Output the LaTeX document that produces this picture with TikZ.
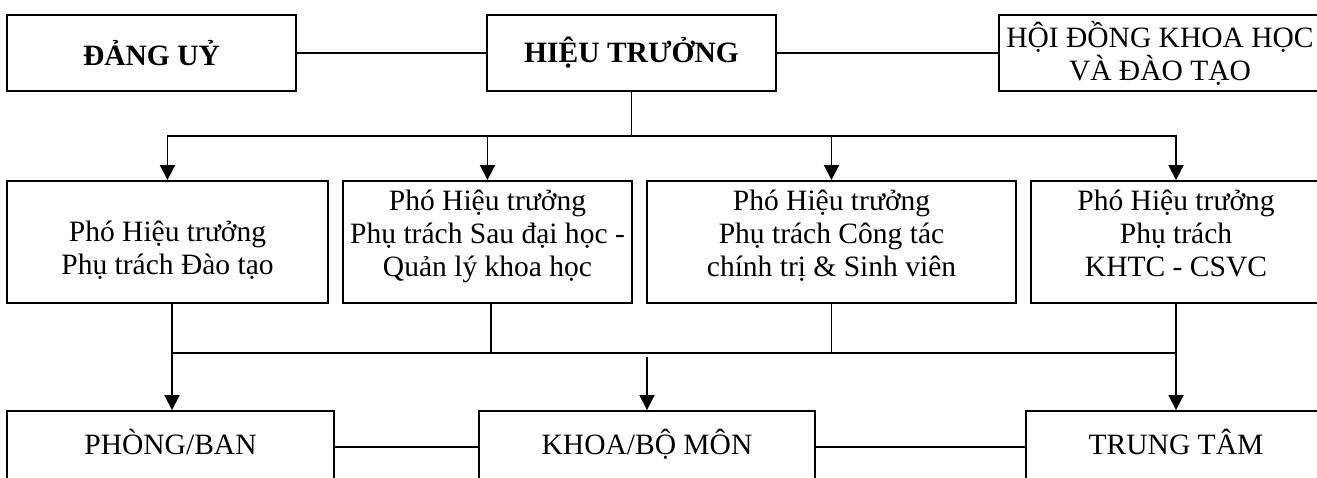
\documentclass[tikz,border=0pt]{standalone}
\usepackage{fontspec}
\setmainfont{Liberation Serif}
\usetikzlibrary{arrows.meta}

\begin{document}
\begin{tikzpicture}[x=0.02cm, y=-0.02cm, font=\fontsize{16.8}{18.8}\selectfont]
\tikzstyle{unit_top}=[rectangle, draw=black, line width=1.1pt, minimum height=1.52cm, align=center, inner sep=0pt];
\tikzstyle{unit_pht}=[rectangle, draw=black, line width=1.1pt, minimum height=2.44cm, align=center, inner sep=0pt];
\tikzstyle{unit_pht3}=[unit_pht, text depth=0.36cm];
\tikzstyle{unit_bottom}=[rectangle, draw=black, line width=1.1pt, minimum height=1.44cm, text height=0.42cm, text depth=0.14cm, inner sep=0pt];
\tikzstyle{line}=[line width=1.1pt];
\tikzstyle{arrow}=[-{Triangle[width=0.3cm, length=0.3cm]}, line width=1.1pt];

\clip (0,0) rectangle (1317,477);

\node [unit_top, minimum width=5.78cm] at (151.5,53) (Dang Uy) {\textbf{ĐẢNG UỶ}};
\node [unit_top, minimum width=5.78cm] at (631.5,53) (Hieu Truong) {\textbf{HIỆU TRƯỞNG}};
\node [unit_top, minimum width=6.46cm] at (1160,53) (Hoi Dong) {HỘI ĐỒNG KHOA HỌC\\VÀ ĐÀO TẠO};

\node [unit_pht, minimum width=6.42cm] at (167.5,242) (PHT Dao Tao) {\rule{0pt}{0.72cm}Phó Hiệu trưởng\\Phụ trách Đào tạo};
\node [unit_pht3, minimum width=5.78cm] at (487.5,242) (PHT Sau Dai Hoc) {Phó Hiệu trưởng\\Phụ trách Sau đại học -\\Quản lý khoa học};
\node [unit_pht3, minimum width=7.38cm] at (831.5,242) (PHT Sinh Vien) {Phó Hiệu trưởng\\Phụ trách Công tác\\chính trị \& Sinh viên};
\node [unit_pht3, minimum width=5.8cm] at (1176,242) (PHT CSVC) {Phó Hiệu trưởng\\Phụ trách\\KHTC - CSVC};

\node [unit_bottom, minimum width=6.54cm] at (170.5,447) (Phong Ban) {PHÒNG/BAN};
\node [unit_bottom, minimum width=6.72cm] at (647,447) (Khoa) {KHOA/BỘ MÔN};
\node [unit_bottom, minimum width=6.0cm] at (1176,447) (Trung Tam) {TRUNG TÂM};

\coordinate (Bus Top) at (631.5,136);
\coordinate (Bus Left) at (172,353);
\coordinate (Bus Right) at (1176,353);

\draw[line] (Dang Uy) -- (Hieu Truong);
\draw[line] (Hieu Truong) -- (Hoi Dong);

\draw[line] (Hieu Truong) -- (Bus Top);
\draw[arrow] (Bus Top) -| (PHT Dao Tao);
\draw[arrow] (Bus Top) -| (PHT Sau Dai Hoc);
\draw[arrow] (Bus Top) -| (PHT Sinh Vien);
\draw[arrow] (Bus Top) -| (PHT CSVC);

\draw[line] (PHT Dao Tao.south -| Bus Left) -- (Bus Left) -- (Bus Right) -- (PHT CSVC);
\draw[line] ([xshift=0.07cm]PHT Sau Dai Hoc.south) -- ([xshift=0.07cm]PHT Sau Dai Hoc.south |- Bus Left);
\draw[line] (PHT Sinh Vien) -- (PHT Sinh Vien |- Bus Left);

\draw[arrow] (Bus Left) -- (Phong Ban.north -| Bus Left);
\draw[arrow] ([yshift=-0.08cm]Khoa |- Bus Left) -- (Khoa);
\draw[arrow] (Bus Right) -- (Trung Tam);

\draw[line] (Phong Ban) -- (Khoa);
\draw[line] (Khoa) -- (Trung Tam);

\end{tikzpicture}
\end{document}
